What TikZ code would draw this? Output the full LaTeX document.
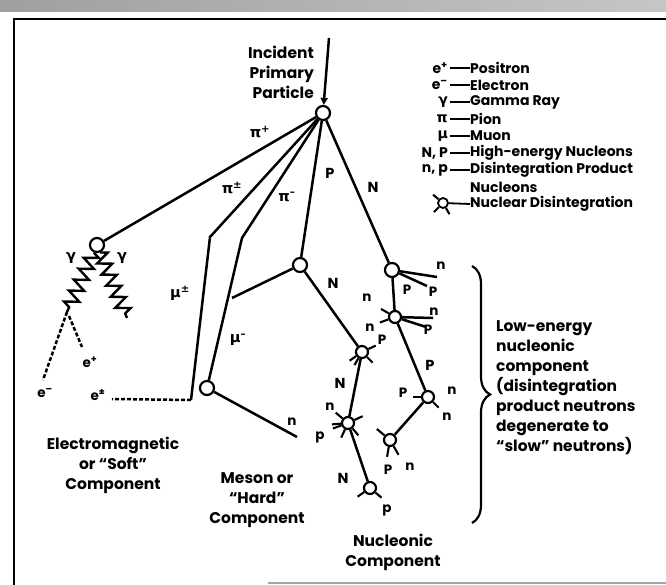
\documentclass[tikz,border=0pt]{standalone}
\usepackage{fontspec}
\setmainfont{Poppins}
\newfontfamily\grk{DejaVu Sans Bold}
\usetikzlibrary{decorations.pathmorphing,decorations.pathreplacing,arrows.meta}
\newcommand{\spk}[3]{\foreach \a in {#2}{\draw[spike] (#1.\a) -- ++({#3*cos(\a)},{-#3*sin(\a)});}}
\begin{document}
\begin{tikzpicture}[x=1pt,y=-1pt,
  track/.style={line width=2.5pt},
  spike/.style={line width=2.1pt},
  vx/.style={circle,draw,fill=white,line width=2.2pt,inner sep=0pt,minimum size=14pt},
  sv/.style={circle,draw,fill=white,line width=2.2pt,inner sep=0pt,minimum size=12pt},
  lbl/.style={font=\fontsize{14.5}{16}\selectfont\bfseries,inner sep=0.5pt},
  sl/.style={font=\fontsize{13.5}{15}\selectfont\bfseries,inner sep=0.5pt},
  leg/.style={font=\fontsize{14}{15}\selectfont\bfseries,inner sep=0pt},
  big/.style={font=\fontsize{15.5}{20}\selectfont\bfseries,align=center,inner sep=0pt},
  zz/.style={line width=2.4pt,decorate,decoration={zigzag,segment length=12pt,amplitude=7pt}},
  dsh/.style={line width=2.5pt,dash pattern=on 4pt off 2pt}]
\useasboundingbox (0,0) rectangle (666,585);
% scan band and frame
\shade[left color=gray!75,right color=gray!45] (0,0) rectangle (666,12);
\draw[line width=2.5pt] (14,585) -- (14,19) -- (666,19);
\draw[line width=1.5pt,gray!70] (268,583) -- (666,583);

% incident particle
\node[big,anchor=east,align=right] (inc) at (314,72) {Incident\\Primary\\Particle};
\node[vx] (top) at (323,113) {};
\coordinate (arr) at (329,38);
\draw[track,-{Triangle[length=7pt,width=7pt]}] (arr) -- (top);

% legend
\foreach \y/\s/\t in {68/{e\textsuperscript{+}}/Positron, 85/{e\textsuperscript{–}}/Electron,
  102/{\grk γ}/Gamma Ray, 119/{\grk π}/Pion, 136/{\grk μ}/Muon,
  153/{N, P}/High-energy Nucleons, 170/{n, p}/Disintegration Product}{
  \node[leg,anchor=east] (ls\y) at (448,\y) {\s};
  \node[leg,anchor=west] (lt\y) at (470,\y) {\t};
  \draw[line width=1.8pt] (ls\y.east) ++(2,0) -- (lt\y.west);
}
\node[leg,anchor=west] (lt187) at (470,187) {Nucleons};
\node[leg,anchor=west] (lt203) at (470,204) {Nuclear Disintegration};
\node[circle,draw,fill=white,line width=1.8pt,inner sep=0pt,minimum size=10pt] (lsym) at (443,203) {};
\draw[line width=1.8pt] (lsym) -- (lt203.west);
\spk{lsym}{140,225,300}{7}

% vertices
\node[vx] (gam) at (97,245) {};
\node[vx] (A) at (300,265) {};
\node[vx] (G) at (392,270) {};
\node[vx] (Mc) at (207,388) {};
\node[sv] (B) at (362,352) {};
\node[sv] (H) at (395,317) {};
\node[sv] (C) at (348,423) {};
\node[sv] (F) at (428,397) {};
\node[sv] (E) at (390,440) {};
\node[sv] (D) at (370,488) {};

\coordinate (pipm) at (210,237);
\coordinate (pim) at (242,238);
\coordinate (mue) at (191,400);
\coordinate (ee) at (112,399);
\coordinate (Aend) at (232,298);
\coordinate (nend) at (297,437);
\coordinate (zl) at (67,312);
\coordinate (zr) at (127,318);
\coordinate (em) at (43,380);
\coordinate (eps) at (69,316);
\coordinate (ep) at (82,347);
\coordinate (Gn) at (437,277);
\coordinate (Gp) at (427,286);
\coordinate (Hn) at (433,318);
\coordinate (Hp) at (426,327);

% tracks
\draw[track] (top) -- (gam);
\draw[track] (top) -- (pipm) -- (mue);
\draw[track] (top) -- (pim) -- (Mc);
\draw[track] (Mc) -- (nend);
\draw[track] (top) -- (A);
\draw[track] (A) -- (Aend);
\draw[track] (A) -- (B);
\draw[track] (B) -- (C);
\draw[track] (C) -- (D);
\draw[track] (top) -- (G);
\draw[track] (G) -- (H);
\draw[track] (H) -- (F);
\draw[track] (F) -- (E);
\draw[track] (G) -- (Gn);
\draw[track] (G) -- (Gp);
\draw[track] (H) -- (Hn);
\draw[track] (H) -- (Hp);

% electromagnetic
\draw[zz] (gam) -- (zl);
\draw[zz] (gam) -- (zr);
\draw[dsh] (zl) -- (em);
\draw[dsh] (eps) -- (ep);
\draw[dsh] (mue) -- (ee);

% disintegration spikes
\spk{B}{25,215,240,-45}{8}
\spk{H}{150,200}{9}
\spk{C}{140,185,200,25,-50,-115}{9}
\spk{D}{215,-40}{8}
\spk{E}{140,-100,-60}{10}
\spk{F}{180,-45}{8}

% labels
\node[lbl] (lpip) at (260,132) {\grk π\textsuperscript{+}};
\node[lbl] (lpipm) at (232,188) {\grk π\textsuperscript{±}};
\node[lbl] (lpim) at (287,197) {\grk π\textsuperscript{–}};
\node[lbl] (lP1) at (330,173) {P};
\node[lbl] (lN1) at (373,187) {N};
\node[lbl] (lg1) at (71,258) {\grk γ};
\node[lbl] (lg2) at (122,258) {\grk γ};
\node[lbl] (lmupm) at (180,293) {\grk μ\textsuperscript{±}};
\node[lbl] (lmum) at (238,340) {\grk μ\textsuperscript{–}};
\node[sl] (lep) at (90,362) {e\textsuperscript{+}};
\node[sl] (lem) at (45,393) {e\textsuperscript{–}};
\node[sl] (lepm) at (98,395) {e\textsuperscript{±}};
\node[sl] (lnm) at (292,422) {n};
\node[lbl] (lN2) at (333,283) {N};
\node[sl] (lBP) at (382,340) {P};
\node[lbl] (lN3) at (340,383) {N};
\node[sl] (lCn) at (330,407) {n};
\node[sl] (lCp) at (320,437) {p};
\node[lbl] (lN4) at (343,478) {N};
\node[sl] (lDp) at (387,510) {p};
\node[sl] (lEp) at (388,470) {P};
\node[sl] (lEn) at (410,467) {n};
\node[sl] (lFp) at (403,393) {P};
\node[sl] (lFn1) at (452,391) {n};
\node[sl] (lFn2) at (447,417) {n};
\node[sl] (lGn) at (441,266) {n};
\node[sl] (lGp) at (433,292) {P};
\node[sl] (lGP) at (407,290) {P};
\node[sl] (lHn1) at (367,298) {n};
\node[sl] (lHn2) at (370,328) {n};
\node[sl] (lHn3) at (434,312) {n};
\node[sl] (lHp) at (428,330) {P};
\node[lbl] (lP2) at (430,365) {P};

% brace and text
\draw[line width=2.2pt,decorate,decoration={brace,amplitude=18pt}] (472,266) -- (472,523);
\node[big,anchor=north west,align=left] (low) at (496,320) {Low-energy\\nucleonic\\component\\(disintegration\\product neutrons\\degenerate to\\“slow” neutrons)};

% component labels
\node[big] (lem1) at (113,465) {Electromagnetic\\or “Soft”\\Component};
\node[big] (lmes) at (257,500) {Meson or\\“Hard”\\Component};
\node[big] (lnuc) at (393,552) {Nucleonic\\Component};
\end{tikzpicture}
\end{document}
